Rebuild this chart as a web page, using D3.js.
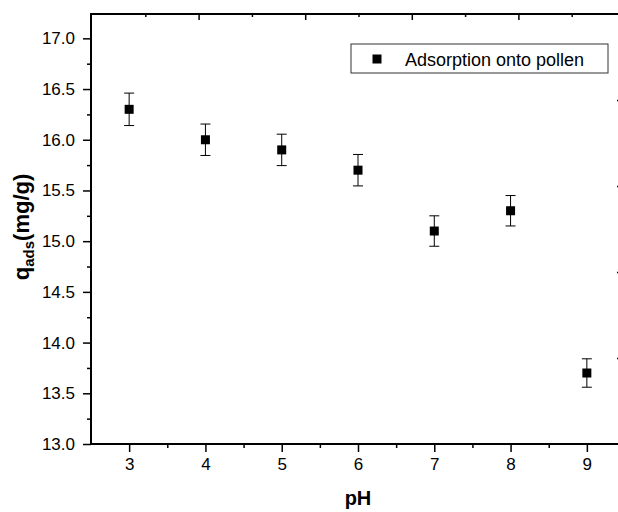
<!DOCTYPE html>
<html>
<head>
<meta charset="utf-8">
<script src="https://cdn.jsdelivr.net/npm/d3@7"></script>
<style>
  body { margin: 0; background: #fff; }
  text { font-family: "Liberation Sans", Arial, sans-serif; }
</style>
</head>
<body>
<svg id="svg" width="618" height="512"></svg>
<script>
// data
let phValues = [3, 4, 5, 6, 7, 8, 9];
let qValues = [16.3, 16.0, 15.9, 15.7, 15.1, 15.3, 13.7];
let qErrors = [0.16, 0.155, 0.155, 0.155, 0.15, 0.15, 0.14];
let xTicks = [3, 4, 5, 6, 7, 8, 9];
let yTicks = [13.0, 13.5, 14.0, 14.5, 15.0, 15.5, 16.0, 16.5, 17.0];
let legendLabel = "Adsorption onto pollen";

let svg = d3.select("#svg");
let plotLeft = 91, plotRight = 625, plotTop = 14, plotBottom = 444;

let x = d3.scaleLinear().domain([2.5, 9.5]).range([plotLeft, plotRight]);
let y = d3.scaleLinear().domain([13, 17.24]).range([plotBottom, plotTop]);
// top / right frame carry their own plain tick spacing
let xTop = d3.scaleLinear().domain([0, 5]).range([plotLeft + 1, plotRight]);
let yRight = d3.scaleLinear().domain([0, 5]).range([plotBottom, plotTop]);

function styleAxis(g) {
  g.select(".domain").remove();
  g.selectAll("line").attr("stroke", "#000").attr("stroke-width", 1.5);
  g.selectAll("text").attr("fill", "#000").style("font-size", "17px");
}

// minor ticks
svg.append("g")
  .attr("transform", `translate(0,${plotBottom})`)
  .call(d3.axisBottom(x).tickValues(d3.range(3.5, 9.5, 1)).tickSize(4).tickFormat(""))
  .call(styleAxis);
svg.append("g")
  .attr("transform", `translate(${plotLeft},0)`)
  .call(d3.axisLeft(y).tickValues(d3.range(13.25, 17.2, 0.5)).tickSize(4).tickFormat(""))
  .call(styleAxis);

// major ticks
svg.append("g")
  .attr("transform", `translate(0,${plotBottom})`)
  .call(d3.axisBottom(x).tickValues(xTicks).tickSize(8).tickPadding(6).tickFormat(d3.format("d")))
  .call(styleAxis);
svg.append("g")
  .attr("transform", `translate(${plotLeft},0)`)
  .call(d3.axisLeft(y).tickValues(yTicks).tickSize(8).tickPadding(8).tickFormat(d3.format(".1f")))
  .call(styleAxis);

// top frame ticks (inward)
svg.append("g")
  .attr("transform", `translate(0,${plotTop})`)
  .call(d3.axisTop(xTop).tickValues([1, 2, 3, 4]).tickSize(-6).tickFormat(""))
  .call(styleAxis);
svg.append("g")
  .attr("transform", `translate(0,${plotTop})`)
  .call(d3.axisTop(xTop).tickValues([0.5, 1.5, 2.5, 3.5, 4.5]).tickSize(-3).tickFormat(""))
  .call(styleAxis);
svg.append("g")
  .attr("transform", `translate(${plotRight},0)`)
  .call(d3.axisRight(yRight).tickValues([1, 2, 3, 4]).tickSize(-8).tickFormat(""))
  .call(styleAxis);

// frame lines
svg.append("line").attr("x1", plotLeft).attr("x2", plotLeft).attr("y1", plotTop - 1).attr("y2", plotBottom + 1)
  .attr("stroke", "#000").attr("stroke-width", 2);
svg.append("line").attr("x1", plotLeft - 1).attr("x2", plotRight).attr("y1", plotBottom).attr("y2", plotBottom)
  .attr("stroke", "#000").attr("stroke-width", 2);
svg.append("line").attr("x1", plotLeft - 1).attr("x2", plotRight).attr("y1", plotTop).attr("y2", plotTop)
  .attr("stroke", "#000").attr("stroke-width", 2);
svg.append("line").attr("x1", plotRight).attr("x2", plotRight).attr("y1", plotTop).attr("y2", plotBottom)
  .attr("stroke", "#000").attr("stroke-width", 2);

// points with error bars
let pts = phValues.map((d, i) => ({ ph: d, q: qValues[i], e: qErrors[i] }));
let pg = svg.append("g");
pg.selectAll("line.err")
  .data(pts)
  .enter()
  .append("line")
  .attr("class", "err")
  .attr("x1", (d) => x(d.ph))
  .attr("x2", (d) => x(d.ph))
  .attr("y1", (d) => y(d.q + d.e))
  .attr("y2", (d) => y(d.q - d.e))
  .attr("stroke", "#000")
  .attr("stroke-width", 1);
[1, -1].forEach((s) => {
  pg.selectAll("line.cap" + s)
    .data(pts)
    .enter()
    .append("line")
    .attr("x1", (d) => x(d.ph) - 5)
    .attr("x2", (d) => x(d.ph) + 5)
    .attr("y1", (d) => y(d.q + s * d.e))
    .attr("y2", (d) => y(d.q + s * d.e))
    .attr("stroke", "#000")
    .attr("stroke-width", 1);
});
pg.selectAll("rect")
  .data(pts)
  .enter()
  .append("rect")
  .attr("x", (d) => x(d.ph) - 4.5)
  .attr("y", (d) => y(d.q) - 4.5)
  .attr("width", 9)
  .attr("height", 9)
  .attr("fill", "#000");

// legend
let lg = svg.append("g");
lg.append("rect")
  .attr("x", 351).attr("y", 44).attr("width", 257).attr("height", 29)
  .attr("fill", "#fff").attr("stroke", "#333").attr("stroke-width", 1);
lg.append("rect")
  .attr("x", 372.5).attr("y", 54.5).attr("width", 9).attr("height", 9)
  .attr("fill", "#000");
lg.append("text")
  .attr("x", 405).attr("y", 66)
  .style("font-size", "18px")
  .text(legendLabel);

// axis titles
svg.append("text")
  .attr("x", (plotLeft + plotRight) / 2).attr("y", 505)
  .attr("text-anchor", "middle")
  .style("font-size", "20px")
  .style("font-weight", "bold")
  .text("pH");

let yt = svg.append("text")
  .attr("transform", `translate(29,${(plotTop + plotBottom) / 2 - 2}) rotate(-90)`)
  .attr("text-anchor", "middle")
  .style("font-size", "22px")
  .style("font-weight", "bold");
yt.append("tspan").text("q");
yt.append("tspan").attr("dy", 5).style("font-size", "15px").text("ads");
yt.append("tspan").attr("dy", -5).text("(mg/g)");
</script>
</body>
</html>
